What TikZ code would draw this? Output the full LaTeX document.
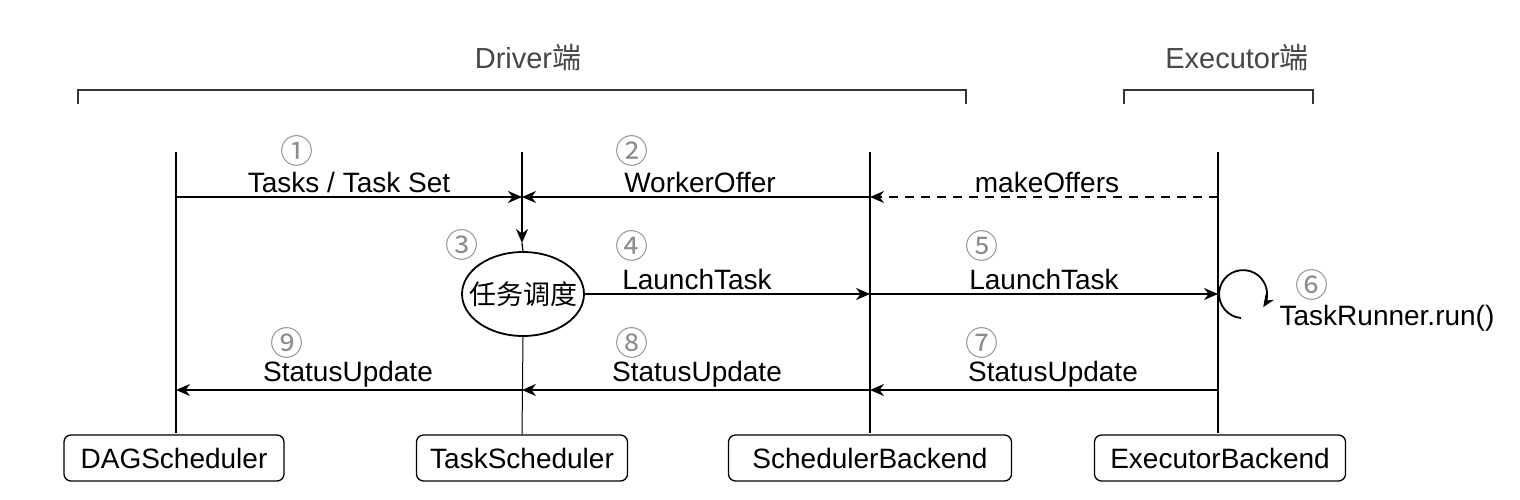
\documentclass[tikz,border=0pt]{standalone}
\usepackage{fontspec}
\setmainfont{Liberation Sans}
\newfontfamily\cjk{Noto Sans CJK SC}
\usetikzlibrary{arrows.meta,shapes.geometric}
\begin{document}
\begin{tikzpicture}[x=1pt,y=-1pt,
  life/.style={line width=1.8pt},
  msg/.style={line width=1.8pt,-{Stealth[length=14pt,width=12pt]}},
  box/.style={draw,line width=1.3pt,rounded corners=7pt,minimum height=46pt,inner sep=0pt,font=\fontsize{28}{30}\selectfont},
  lbl/.style={font=\fontsize{28}{30}\selectfont,inner sep=0pt},
  num/.style={font=\cjk\fontsize{33}{35}\selectfont,text=black!45,inner sep=0pt},
  side/.style={font=\fontsize{29}{31}\selectfont,text=black!72,inner sep=0pt},
  brk/.style={line width=2pt,draw=black!80}]
\useasboundingbox (0,0) rectangle (1520,500);
% brackets
\coordinate (db1) at (78,104); \coordinate (db2) at (966,104);
\coordinate (eb1) at (1124,104); \coordinate (eb2) at (1313,104);
\draw[brk] (db1) |- (522,90) -| (db2);
\draw[brk] (eb1) |- (1218,90) -| (eb2);
\node[side] (drv) at (528,58) {Driver{\cjk 端}};
\node[side] (exe) at (1237,58) {Executor{\cjk 端}};
% bottom boxes
\node[box,minimum width=220pt] (dag) at (174,458) {DAGScheduler};
\node[box,minimum width=211pt] (ts) at (522,458) {TaskScheduler};
\node[box,minimum width=283pt] (sb) at (870,458) {SchedulerBackend};
\node[box,minimum width=251pt] (eb) at (1220,458) {ExecutorBackend};
% ellipse
\node[draw,ellipse,line width=1.8pt,minimum width=122pt,minimum height=84pt,inner sep=0pt] (job) at (523,294) {};
\node[font=\cjk\fontsize{27}{29}\selectfont,inner sep=0pt] (jobt) at (job.center) {任务调度};
% lifeline tops
\coordinate (dtop) at (176,152);
\coordinate (ttop) at (522,152);
\coordinate (stop) at (870,152);
\coordinate (etop) at (1218,152);
\draw[life] (dtop) -- (176,433);
\draw[life] (stop) -- (870,433);
\draw[life] (etop) -- (1218,433);
\coordinate (ttip) at (522,243);
\draw[msg] (ttop) -- (ttip);
\draw[line width=1.2pt] (ttip) -- (job.north);
\draw[line width=1pt] (job.south) -- (ts.north);
% row coordinates
\coordinate (d1) at (176,197); \coordinate (t1) at (522,197);
\coordinate (s1) at (870,197); \coordinate (e1) at (1218,197);
\coordinate (s2) at (870,294); \coordinate (e2) at (1218,294);
\coordinate (d3) at (176,390); \coordinate (t3) at (522,390);
\coordinate (s3) at (870,390); \coordinate (e3) at (1218,390);
\draw[msg] (d1) -- (t1);
\draw[msg] (s1) -- (t1);
\draw[msg,dashed,dash pattern=on 9pt off 7pt] (e1) -- (s1);
\draw[msg] (job.east) -- (s2);
\draw[msg] (s2) -- (e2);
\draw[msg] (e3) -- (s3);
\draw[msg] (s3) -- (t3);
\draw[msg] (t3) -- (d3);
% self loop
\draw[line width=1.8pt,-{Stealth[length=12pt,width=10pt]}] (1241,318) arc[start angle=95,end angle=393,radius=24];
% labels
\node[num] (n1) at (297,151) {①};
\node[lbl] (l1) at (349,182) {Tasks / Task Set};
\node[num] (n2) at (632,151) {②};
\node[lbl] (l2) at (700,182) {WorkerOffer};
\node[lbl] (l2b) at (1047,182) {makeOffers};
\node[num] (n3) at (462,245) {③};
\node[num] (n4) at (632,246) {④};
\node[lbl] (l4) at (697,279) {LaunchTask};
\node[num] (n5) at (982,246) {⑤};
\node[lbl] (l5) at (1044,279) {LaunchTask};
\node[num] (n6) at (1312,285) {⑥};
\node[lbl] (l6) at (1387,318) {TaskRunner.run()};
\node[num] (n7) at (982,343) {⑦};
\node[lbl] (l7) at (1053,374) {StatusUpdate};
\node[num] (n8) at (632,343) {⑧};
\node[lbl] (l8) at (697,374) {StatusUpdate};
\node[num] (n9) at (287,343) {⑨};
\node[lbl] (l9) at (348,374) {StatusUpdate};
\end{tikzpicture}
\end{document}
